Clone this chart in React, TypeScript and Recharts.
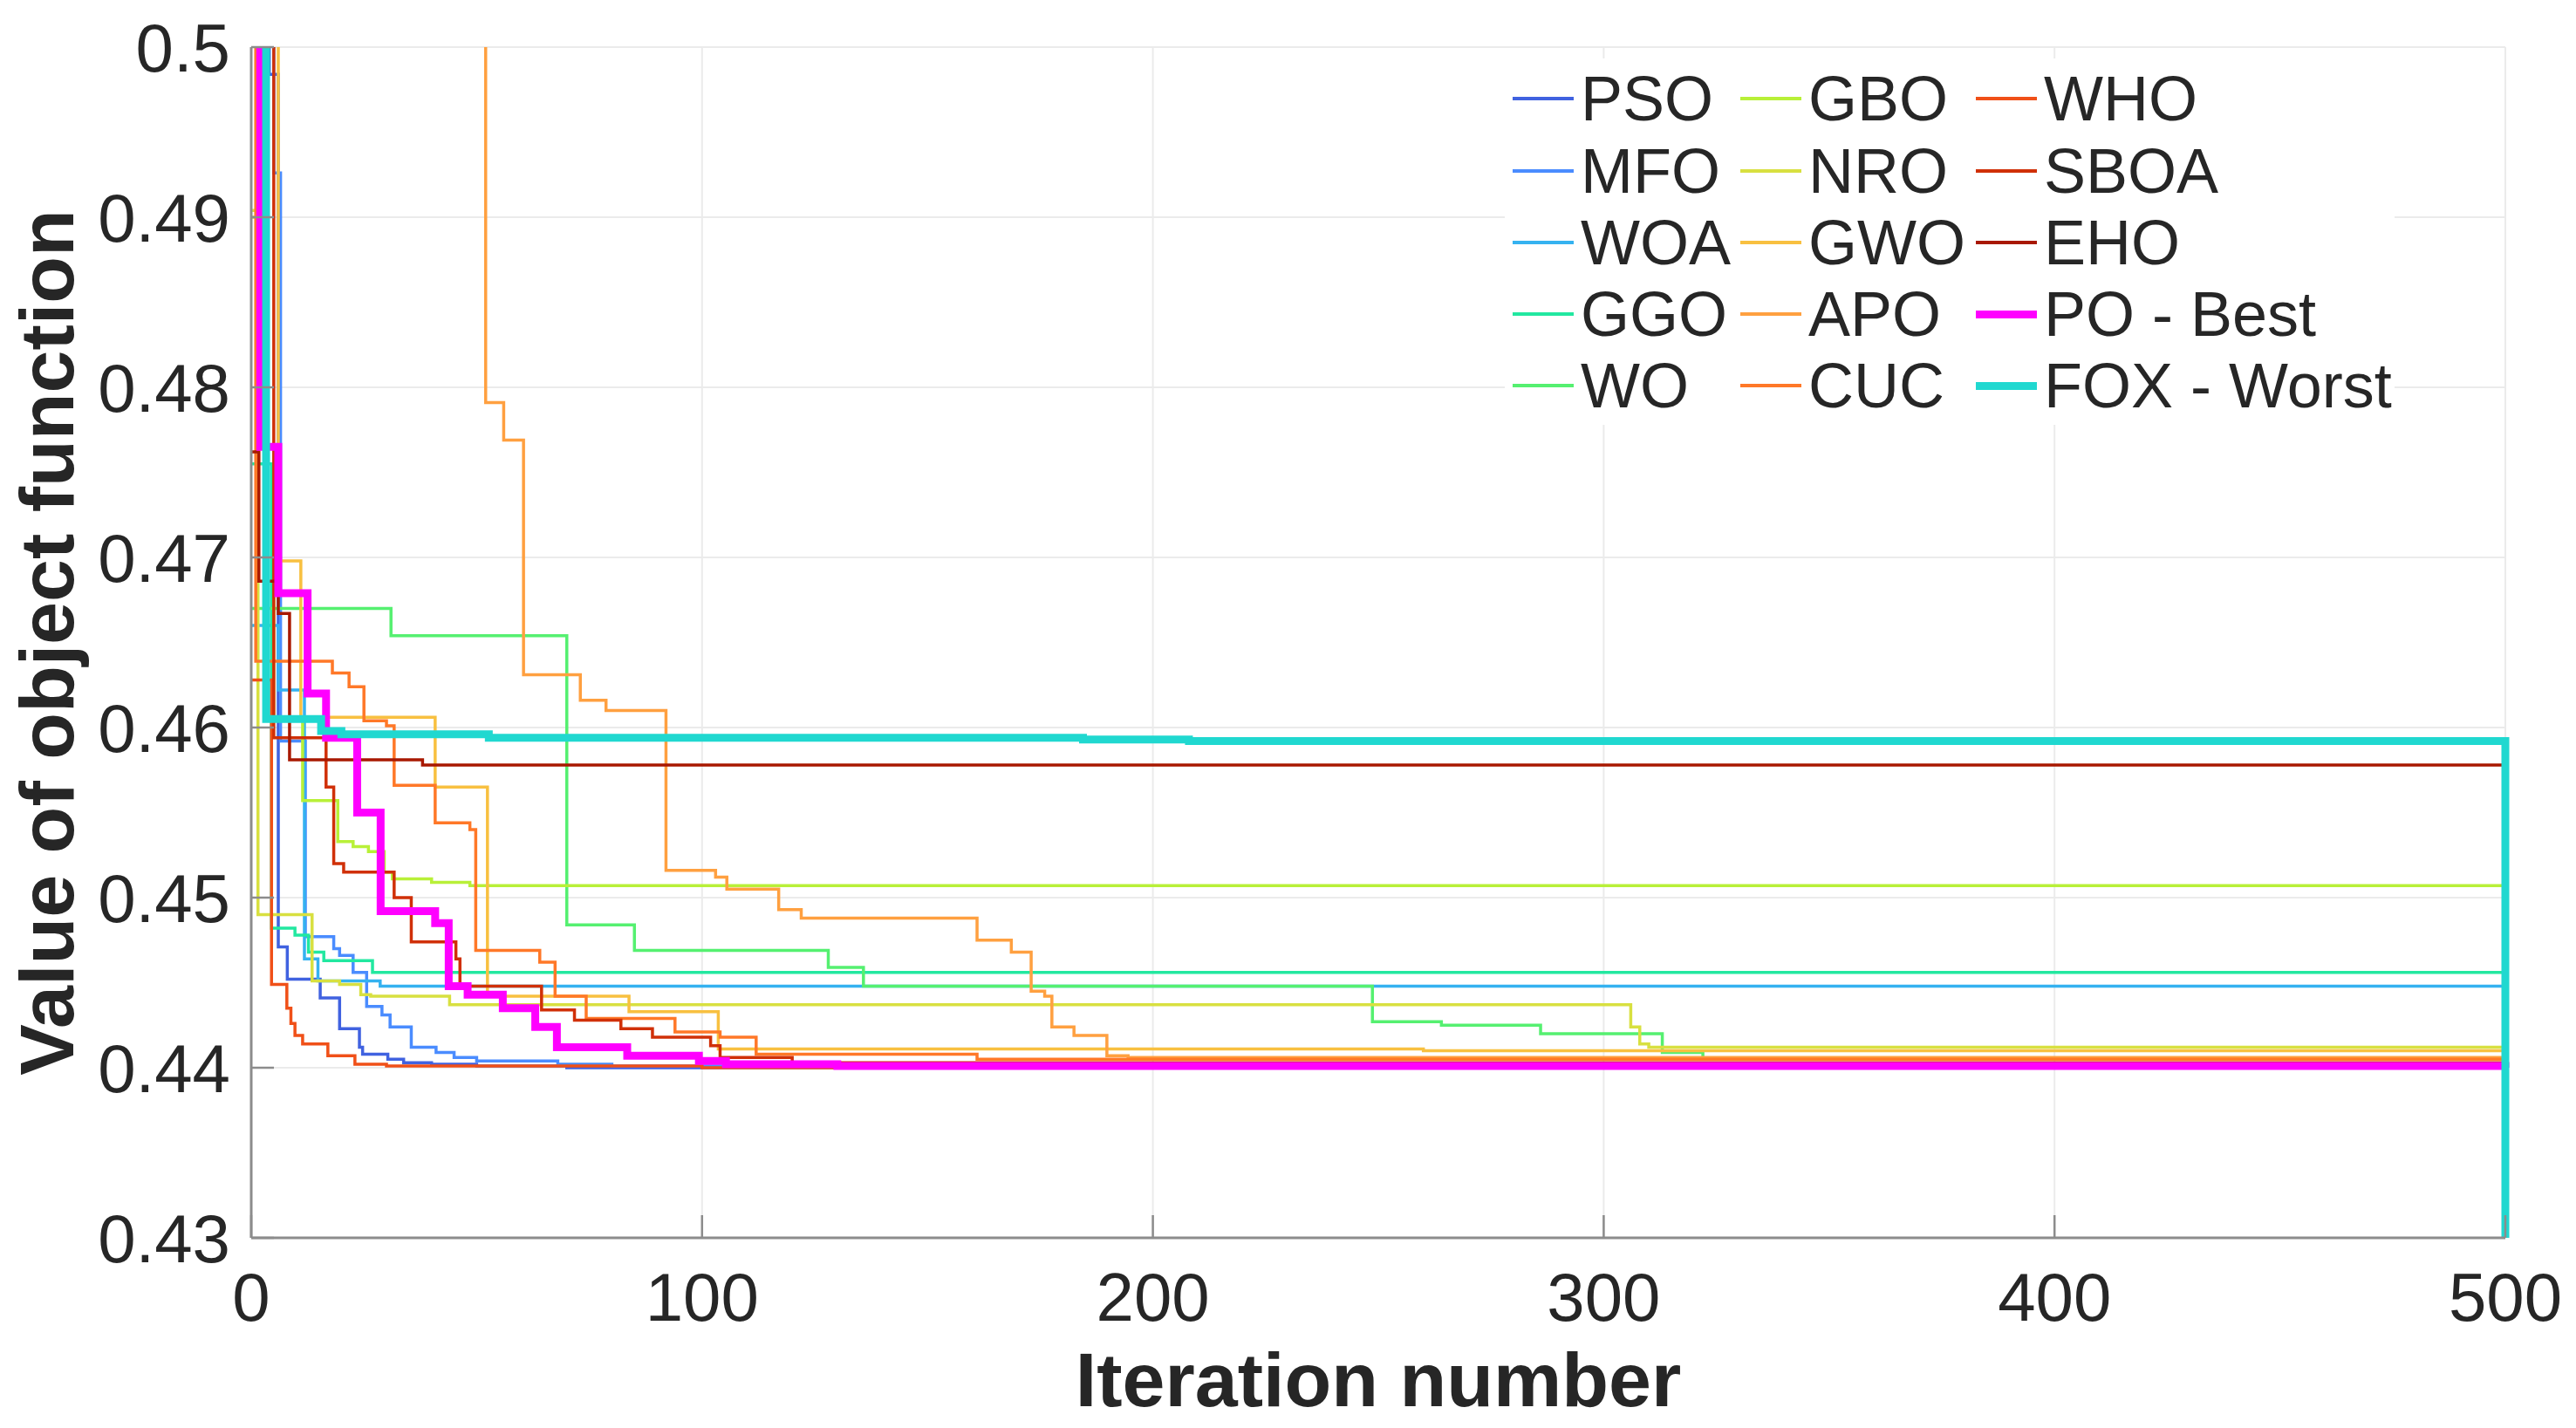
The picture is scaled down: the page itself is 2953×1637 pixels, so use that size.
import { LineChart, Line, XAxis, YAxis, CartesianGrid } from "recharts";

const W = 2953;
const H = 1637;
const FONT = "'Liberation Sans', Arial, Helvetica, sans-serif";
const INK = "#262626";
const AXIS = "#8c8c8c";

const xTicks = [0, 100, 200, 300, 400, 500];
const yTicks = [0.43, 0.44, 0.45, 0.46, 0.47, 0.48, 0.49, 0.5];

// best-so-far steps: [iteration, value]
const pso: [number, number][] = [
  [0, 0.52], [4, 0.4984], [6, 0.4471], [8, 0.4452], [15.3, 0.4441], [19.6, 0.4423],
  [24, 0.4412], [24.7, 0.4408], [30.3, 0.4405], [33.8, 0.4403], [40, 0.4402],
  [50, 0.4401], [70, 0.44], [500, 0.44],
];
const mfo: [number, number][] = [
  [0, 0.52], [5, 0.4926], [6.5, 0.4592], [12, 0.4477], [18.3, 0.447], [19.6, 0.4466],
  [22.6, 0.4456], [25.6, 0.4436], [29, 0.4431], [30.8, 0.4424], [35.5, 0.4412],
  [41, 0.4409], [45, 0.4406], [50, 0.4404], [68, 0.4402], [80, 0.4401], [500, 0.4401],
];
const woa: [number, number][] = [
  [0, 0.466], [6, 0.4622], [11.8, 0.4464], [14.8, 0.4451], [28.6, 0.4448], [500, 0.4448],
];
const ggo: [number, number][] = [
  [0, 0.4755], [4.5, 0.4482], [9.7, 0.4478], [12.7, 0.4468], [16.1, 0.4463],
  [26.9, 0.4456], [500, 0.4456],
];
const wo: [number, number][] = [
  [0, 0.467], [31, 0.4654], [70, 0.4484], [85, 0.4469], [128, 0.4459], [135.8, 0.4448],
  [248.7, 0.4427], [264, 0.4425], [286, 0.442], [313, 0.4409], [322, 0.4405], [500, 0.4404],
];
const gbo: [number, number][] = [
  [0, 0.49], [3, 0.4765], [5, 0.4605], [11.4, 0.4557], [19.2, 0.4533], [22.6, 0.453],
  [26, 0.4527], [29.5, 0.4515], [31.3, 0.4511], [40, 0.4509], [48.5, 0.4507], [500, 0.4506],
];
const nro: [number, number][] = [
  [0, 0.4904], [1.5, 0.449], [13.5, 0.4451], [19.6, 0.4449], [24.3, 0.4443],
  [26.5, 0.4442], [44, 0.4437], [306, 0.4424], [308, 0.4414], [310, 0.4412], [500, 0.4412],
];
const gwo: [number, number][] = [
  [0, 0.52], [6, 0.4698], [11, 0.4606], [40.8, 0.4565], [52.4, 0.4442], [83.8, 0.4433],
  [103.6, 0.4411], [260, 0.441], [500, 0.441],
];
const apo: [number, number][] = [
  [0, 0.53], [52, 0.4791], [56, 0.4769], [60.4, 0.4631], [73, 0.4616], [78.7, 0.461],
  [92, 0.4516], [103, 0.4512], [105.5, 0.4505], [117, 0.4493], [122, 0.4488],
  [161, 0.4475], [168.6, 0.4468], [173, 0.4445], [176, 0.4442], [177.6, 0.4424],
  [182.5, 0.4419], [189.8, 0.4407], [194.5, 0.4406], [500, 0.4406],
];
const cuc: [number, number][] = [
  [0, 0.51], [1, 0.4639], [18, 0.4632], [21.7, 0.4624], [25, 0.4604], [30, 0.4601],
  [31.7, 0.4566], [40.8, 0.4544], [48.5, 0.454], [49.8, 0.4469], [64, 0.4462],
  [67.4, 0.4442], [74.3, 0.4429], [94, 0.4421], [104, 0.4418], [112, 0.4408],
  [161, 0.4405], [500, 0.4405],
];
const who: [number, number][] = [
  [0, 0.4628], [4.5, 0.4449], [7.9, 0.4435], [8.8, 0.4426], [9.7, 0.4419],
  [11.4, 0.4414], [17, 0.4407], [23, 0.4402], [30, 0.4401], [100, 0.44], [500, 0.44],
];
const sboa: [number, number][] = [
  [0, 0.51], [5, 0.4594], [16.6, 0.4565], [18.3, 0.452], [20.5, 0.4515], [31.7, 0.45],
  [35.5, 0.4474], [45.4, 0.4464], [46.3, 0.4448], [64.4, 0.4434], [71.7, 0.4428],
  [82, 0.4423], [89, 0.4418], [101.9, 0.4413], [104, 0.4406], [120, 0.4403], [500, 0.4402],
];
const eho: [number, number][] = [
  [0, 0.4762], [1.7, 0.4686], [6, 0.4667], [8.5, 0.4581], [38, 0.4578], [500, 0.4577],
];
const po: [number, number][] = [
  [0, 0.505], [2, 0.4765], [6, 0.4679], [12.5, 0.462], [16.6, 0.4594], [23.5, 0.455],
  [28.7, 0.4492], [40.8, 0.4485], [43.8, 0.4448], [48, 0.4443], [55.8, 0.4435],
  [63, 0.4424], [67.8, 0.4412], [83.4, 0.4407], [99.3, 0.4404], [105.3, 0.4402],
  [130, 0.4401], [500, 0.44],
];
const fox: [number, number][] = [
  [0, 0.52], [3.3, 0.4605], [15.5, 0.4598], [20, 0.4596], [52.7, 0.4594],
  [184.5, 0.4593], [208, 0.4592], [500, 0.42],
];

const series = [
  { name: "PSO", color: "#4062e0", steps: pso, w: 3.5 },
  { name: "MFO", color: "#4a8cff", steps: mfo, w: 3.5 },
  { name: "WOA", color: "#35b2f0", steps: woa, w: 3.5 },
  { name: "GGO", color: "#22e8a0", steps: ggo, w: 3.5 },
  { name: "WO", color: "#55f070", steps: wo, w: 3.5 },
  { name: "GBO", color: "#b8f038", steps: gbo, w: 3.5 },
  { name: "NRO", color: "#d8e040", steps: nro, w: 3.5 },
  { name: "GWO", color: "#f8c040", steps: gwo, w: 3.5 },
  { name: "APO", color: "#ffa040", steps: apo, w: 3.5 },
  { name: "CUC", color: "#ff7828", steps: cuc, w: 3.5 },
  { name: "WHO", color: "#f05018", steps: who, w: 3.5 },
  { name: "SBOA", color: "#d03008", steps: sboa, w: 3.5 },
  { name: "EHO", color: "#a81800", steps: eho, w: 3.5 },
  { name: "PO - Best", color: "#ff00ff", steps: po, w: 9 },
  { name: "FOX - Worst", color: "#20d8d0", steps: fox, w: 9 },
];

const fmtY = (v: number) => String(Number(v.toFixed(2)));

const XTick = ({ x, y, payload }: any) => (
  <g>
    <line x1={x} x2={x} y1={y} y2={y - 26} stroke={AXIS} strokeWidth={2.5} />
    <text x={x} y={y + 95} textAnchor="middle" fontSize={78} fontFamily={FONT} fill={INK}>
      {payload.value}
    </text>
  </g>
);

const YTick = ({ x, y, payload }: any) => (
  <g>
    <line x1={x} x2={x + 26} y1={y} y2={y} stroke={AXIS} strokeWidth={2.5} />
    <text x={x - 24} y={y + 28} textAnchor="end" fontSize={78} fontFamily={FONT} fill={INK}>
      {fmtY(payload.value)}
    </text>
  </g>
);

const XTitle = (p: any) => {
  const vb = p.viewBox;
  return (
    <text x={vb.x + vb.width / 2} y={vb.y + 193} textAnchor="middle" fontSize={88}
      fontWeight="bold" fontFamily={FONT} fill={INK}>
      Iteration number
    </text>
  );
};

const YTitle = (p: any) => {
  const vb = p.viewBox;
  const cy = vb.y + vb.height / 2;
  return (
    <text x={84} y={cy} transform={`rotate(-90, 84, ${cy})`} textAnchor="middle" fontSize={88}
      fontWeight="bold" fontFamily={FONT} fill={INK}>
      Value of object function
    </text>
  );
};

// legend: 3 columns x 5 rows, column-major like the figure
const legendCols = [1734, 1995, 2265];
const legendRows = [113, 196, 278, 360, 442];

export default function App() {
  return (
    <div style={{ position: "absolute", left: 0, top: 0, width: W, height: H, background: "#fff" }}>
      <LineChart width={W} height={H} margin={{ top: 54, right: 81, bottom: 0, left: 0 }}>
        <CartesianGrid stroke="#ebebeb" strokeWidth={2} />
        <XAxis
          dataKey="it"
          type="number"
          domain={[0, 500]}
          ticks={xTicks}
          interval={0}
          height={218}
          tickSize={0}
          tickMargin={0}
          tick={<XTick />}
          axisLine={{ stroke: AXIS, strokeWidth: 3 }}
          label={{ content: XTitle }}
        />
        <YAxis
          type="number"
          domain={[0.43, 0.5]}
          allowDataOverflow
          ticks={yTicks}
          interval={0}
          width={288}
          tickSize={0}
          tickMargin={0}
          tick={<YTick />}
          axisLine={{ stroke: AXIS, strokeWidth: 3 }}
          label={{ content: YTitle }}
        />
        {series.map((s) => (
          <Line
            key={s.name}
            name={s.name}
            data={s.steps.map(([it, v]) => ({ it, v }))}
            dataKey="v"
            type="stepAfter"
            stroke={s.color}
            strokeWidth={s.w}
            dot={false}
            activeDot={false}
            isAnimationActive={false}
          />
        ))}
      </LineChart>
      <div
        style={{
          position: "absolute",
          left: 1725,
          top: 67,
          width: 1020,
          height: 420,
          background: "#fff",
        }}
      />
      {series.map((s, i) => {
        const col = Math.floor(i / 5);
        const row = i % 5;
        const lx = legendCols[col];
        const cy = legendRows[row];
        return (
          <div key={s.name}>
            <div
              style={{
                position: "absolute",
                left: lx,
                top: cy - s.w / 2,
                width: 70,
                height: s.w,
                background: s.color,
              }}
            />
            <div
              style={{
                position: "absolute",
                left: lx + 78,
                top: cy - 45,
                height: 90,
                lineHeight: "90px",
                fontSize: 72,
                fontFamily: FONT,
                color: INK,
                whiteSpace: "nowrap",
              }}
            >
              {s.name}
            </div>
          </div>
        );
      })}
    </div>
  );
}
